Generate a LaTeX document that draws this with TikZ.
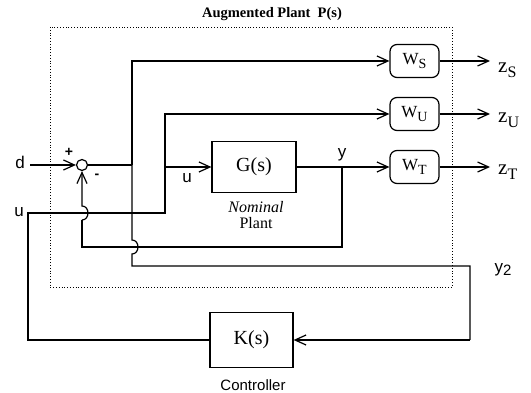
\documentclass[tikz,border=0pt]{standalone}
\usepackage{fontspec}
\setmainfont{Liberation Serif}
\setsansfont{Liberation Sans}
\usetikzlibrary{arrows.meta}
\newcommand{\subx}[1]{\raisebox{-0.45ex}{\fontsize{14}{14}\selectfont #1}}
\newcommand{\subz}[1]{\raisebox{-0.5ex}{\fontsize{16}{16}\selectfont #1}}
\begin{document}
\begin{tikzpicture}[x=1pt,y=-1pt,
  wire/.style={line width=1.2pt},
  arr/.style={wire,-{Straight Barb[length=11pt,width=10pt,line width=1.2pt]}},
  blk/.style={draw,line width=1.2pt,minimum width=84pt,minimum height=51pt,font=\fontsize{20}{20}\selectfont},
  wbox/.style={draw,line width=1.2pt,rounded corners=7pt,minimum width=49pt,minimum height=33pt,inner sep=0pt,font=\fontsize{17}{17}\selectfont},
  lab/.style={font=\sffamily\fontsize{17}{17}\selectfont,inner sep=0pt},
  zlab/.style={font=\fontsize{21}{21}\selectfont,inner sep=0pt,anchor=west}]
\useasboundingbox (0,0) rectangle (531,393);
% dotted boundary
\draw[dotted,line width=0.8pt] (50,27) rectangle (452,287);
\node[font=\bfseries\fontsize{14.5}{15}\selectfont] (title) at (272,14) {Augmented Plant\ \ P(s)};
% blocks
\node[draw,circle,line width=1.2pt,minimum size=11pt,inner sep=0pt] (sum) at (82,165) {};
\node[blk] (G) at (254,167) {G(s)};
\node[font=\itshape\fontsize{16}{16}\selectfont] (nom) at (256,207) {Nominal};
\node[font=\fontsize{16}{16}\selectfont] (plant) at (256,223) {Plant};
\node[wbox] (WS) at (414.5,61) {W\subx{S}};
\node[wbox] (WU) at (414.5,114) {W\subx{U}};
\node[wbox] (WT) at (414.5,167) {W\subx{T}};
\node[blk,minimum width=83pt,minimum height=55pt] (K) at (251.5,340) {K(s)};
\node[lab,font=\sffamily\fontsize{15}{15}\selectfont] (ctl) at (253,385) {Controller};
% labels
\node[lab] (d) at (20,162) {d};
\node[lab,font=\bfseries\sffamily\fontsize{14}{14}\selectfont] (plus) at (69,152) {+};
\node[lab,font=\bfseries\sffamily\fontsize{14}{14}\selectfont] (minus) at (97,176) {-};
\node[lab] (ulab) at (187,178) {u};
\node[lab] (ylab) at (342,155) {y};
\node[lab] (uleft) at (19,212) {u};
\node[lab] (y2) at (503,270) {y\raisebox{-0.3ex}{\fontsize{15}{15}\selectfont 2}};
\node[zlab] (zS) at (498,70) {z\subz{S}};
\node[zlab] (zU) at (498,120) {z\subz{U}};
\node[zlab] (zT) at (498,172) {z\subz{T}};
% coordinates
\coordinate (din) at (30,165);
\coordinate (e) at (132,165);
\coordinate (etop) at (132,61);
\coordinate (ebot) at (132,266);
\coordinate (y2r) at (470,266);
\coordinate (y2k) at (470,340);
\coordinate (ul) at (28,340);
\coordinate (ulu) at (28,213);
\coordinate (uj) at (165,213);
\coordinate (ug) at (165,167);
\coordinate (uw) at (165,114);
\coordinate (yj) at (342,167);
\coordinate (yb) at (342,247);
\coordinate (yl) at (82,247);
\coordinate (zSe) at (490,61);
\coordinate (zUe) at (490,114);
\coordinate (zTe) at (490,167);
% connectors
\draw[arr] (din) -- (sum.west);
\draw[wire] (sum.east) -- (e);
\draw[arr] (e) -- (etop) -- (WS.west);
\draw[wire] (e) -- (132,240) .. controls (140,240) and (140,254) .. (132,254) -- (ebot) -- (y2r) -- (y2k);
\draw[arr] (y2k) -- (K.east);
\draw[wire] (K.west) -- (ul) -- (ulu) -- (uj) -- (ug);
\draw[arr] (ug) -- (uw) -- (WU.west);
\draw[arr] (ug) -- (G.west);
\draw[arr] (G.east) -- (WT.west);
\draw[wire] (yj) -- (yb) -- (yl) -- (82,220);
\draw[arr] (82,220) .. controls (90,220) and (90,206) .. (82,206) -- (sum.south);
\draw[arr] (WS.east) -- (zSe);
\draw[arr] (WU.east) -- (zUe);
\draw[arr] (WT.east) -- (zTe);
\end{tikzpicture}
\end{document}
